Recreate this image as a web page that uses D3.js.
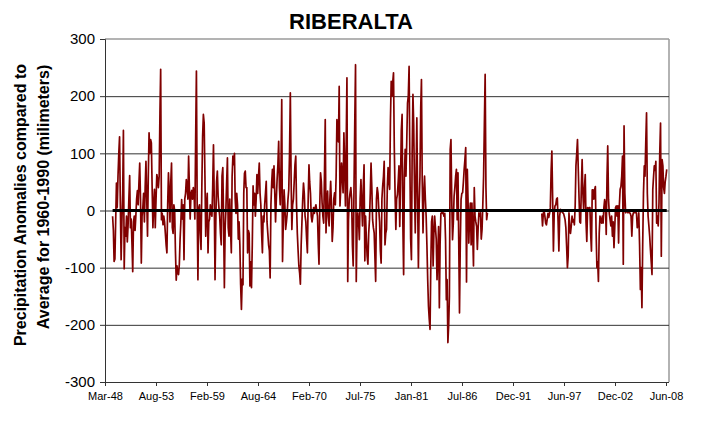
<!DOCTYPE html>
<html>
<head>
<meta charset="utf-8">
<script src="https://cdn.jsdelivr.net/npm/d3@7"></script>
<style>
body { margin: 0; background: #fff; }
text { font-family: "Liberation Sans", Arial, sans-serif; }
</style>
</head>
<body>
<svg id="chart" width="701" height="426"></svg>
<script>
// monthly precipitation anomalies (mm)
var anom1949 = [ // Jan 1949 - Dec 1958
  -10,-35,-89,-85,-20,48,5,60,100,129, 10,-86,-20,30,140,-102,-30,-45,-10,-55,
  -25,20,61,-30,-15,-60,-107,-20,-10,-35, -10,20,35,10,50,83,20,-92,-10,5,
  30,-20,40,86,20,-45,60,136,100,124, 118,40,-30,10,37,-30,20,63,55,40,
  60,170,247,-16,-5,-25,-10,-20,-40,-60, -74,10,66,30,-20,50,83,-30,-40,10,
  0,-70,-122,-97,-110,-112,-95,-50,-20,19, -15,10,-86,20,30,54,40,20,95,40,
  -15,30,35,20,40,30,-15,120,244,0, -121,5,10,-40,-68,40,130,168,153,60
];
var anom1959 = [ // Jan 1959 - Dec 1968
  -45,10,30,-74,-20,-15,10,-5,-10,40, 115,20,-121,-20,50,69,25,5,-10,-40,
  -60,60,75,-15,-135,-30,0,50,92,-30, -45,20,-35,-74,60,95,80,100,20,-5,
  30,10,-50,-20,-60,-130,-173,-120,-130,30, 65,69,40,40,-74,-35,-40,-132,-90,-135,
  -60,43,10,30,-10,20,63,30,60,83, 30,10,-40,-74,-10,-20,10,30,51,-20,
  -40,-60,-70,-118,10,50,72,40,78,30, -20,20,55,80,121,40,10,80,194,-89,
  -20,36,10,-33,-20,-5,20,36,100,206, 60,-33,10,20,50,80,95,10,-40,-70
];
var anom1969 = [ // Jan 1969 - Dec 1978
  -97,-110,-129,-60,-20,20,48,30,-10,-20, -50,-74,20,80,50,30,-10,-20,-10,5,
  -5,5,10,0,-10,-60,-94,10,66,50, 13,-10,-22,60,159,-39,10,34,-10,-27,
  20,51,10,-54,-30,20,31,10,60,159, 130,120,217,8,40,83,60,31,136,80,
  8,120,232,-124,-16,20,31,40,20,-60, -97,31,150,255,-124,-30,-4,-20,-51,20,
  54,10,-27,40,80,-88,-10,-50,-80,-94, -40,-16,30,83,40,-16,-30,-39,-80,-124,
  20,40,30,2,-20,-70,-92,20,43,60, 86,-60,-40,-33,40,75,50,37,159,226
];
var anom1979 = [ // Jan 1979 - Apr 1989
  200,225,241,110,30,-33,20,28,50,78, -28,50,140,168,-20,-112,60,107,60,120,
  188,200,252,90,-50,-86,100,203,150,40, -39,60,162,20,-100,10,60,180,229,50,
  -39,30,60,20,-10,-60,-121,-167,-190,-208, -100,-20,-10,-97,-40,-10,-30,-50,-121,-80,
  -28,-170,-60,-5,-4,-5,-4,-10,-5,-51, -156,-121,-231,-200,-150,107,124,20,-51,-22,
  25,40,60,72,-16,66,-50,-179,-60,19, 30,31,50,72,90,110,-125,72,20,-57,
  -10,13,-60,13,-40,-97,40,-10,-20,-28, -68,-30,-4,-10,-4,-50,-33,10,60,150,
  238,40,-16,-4
];
var anom1995 = [ // Feb 1995 - Jul 2008
  -5,-27,-5,0,-10,-22,-25, -15,-5,-12,-5,5,69,104,20,-71,-5,
  8,10,20,22,-20,-71,-10,2,-2,-1, -4,-5,-10,-16,-30,-63,-100,-80,-4,-30,
  -40,-27,-10,-20,-16,-25,8,78,100,124, 72,20,-20,-22,40,89,30,0,40,63,
  -20,-54,5,0,5,5,-40,-71,36,36, 20,36,42,-39,-100,-90,-124,-40,-10,-16,
  -22,-10,-22,5,19,10,-42,60,113,19, -5,-16,-27,-10,-45,-20,-65,-30,5,8,
  -10,8,-57,10,37,42,60,95,-94,148, 30,-4,-2,0,-4,-2,-4,-5,-10,-45,
  -10,-4,-4,-2,-4,-4,-30,-25,-4,-60, -138,-100,-170,-60,30,78,60,120,171,30,
  -10,-27,-45,-68,-90,-112,37,60,78,70, 86,-22,-10,-27,13,100,153,-80,89,78,
  40,30,50,60,72
];
var segments = [anom1949, anom1959, anom1969, anom1979, anom1995];
var segmentStarts = ["1949-01-01", "1959-01-01", "1969-01-01", "1979-01-01", "1995-02-01"];

var tickLabels = ["Mar-48","Aug-53","Feb-59","Aug-64","Feb-70","Jul-75",
                  "Jan-81","Jul-86","Dec-91","Jun-97","Dec-02","Jun-08"];
var yTicks = [-300, -200, -100, 0, 100, 200, 300];
var yGrid = [-200, -100, 0, 100, 200];

var svg = d3.select("#chart");
var plotLeft = 105, plotRight = 669, plotTop = 39, plotBottom = 382;

// Excel date axis: major unit 2000 days
var axisStart = new Date(Date.UTC(1948, 2, 9));
var tickDates = tickLabels.map(function (d, i) { return d3.utcDay.offset(axisStart, i * 2000); });

var x = d3.scaleUtc()
    .domain([axisStart, tickDates[tickDates.length - 1]])
    .range([plotLeft, 666]);
var y = d3.scaleLinear().domain([-300, 300]).range([plotBottom, plotTop]);

var points = [];
segments.forEach(function (seg, s) {
    var t0 = d3.utcParse("%Y-%m-%d")(segmentStarts[s]);
    if (s > 0 && points.length) {
        var last = points[points.length - 1].date;
        if (d3.utcMonth.offset(last, 1) < t0) points.push({date: d3.utcMonth.offset(last, 1), value: null});
    }
    seg.forEach(function (v, i) {
        points.push({date: d3.utcMonth.offset(t0, i), value: v});
    });
});

// plot border (top / right) in grey
svg.append("line").attr("x1", plotLeft).attr("x2", plotRight).attr("y1", plotTop).attr("y2", plotTop)
    .attr("stroke", "#9a9a9a").attr("stroke-width", 1.5);
svg.append("line").attr("x1", plotRight).attr("x2", plotRight).attr("y1", plotTop).attr("y2", plotBottom)
    .attr("stroke", "#9a9a9a").attr("stroke-width", 1.5);

svg.append("g").selectAll("line").data(yGrid).enter().append("line")
    .attr("x1", plotLeft).attr("x2", plotRight)
    .attr("y1", function (d) { return y(d) + 0.5; })
    .attr("y2", function (d) { return y(d) + 0.5; })
    .attr("stroke", "#333")
    .attr("stroke-width", 1);

// anomaly line
var line = d3.line()
    .defined(function (d) { return d.value !== null; })
    .x(function (d) { return x(d.date); })
    .y(function (d) { return y(d.value); });

svg.append("path")
    .datum(points)
    .attr("d", line)
    .attr("fill", "none")
    .attr("stroke", "#800000")
    .attr("stroke-width", 1.7)
    .attr("stroke-linejoin", "round");

// zero line (black, thick) across the whole record
svg.append("line")
    .attr("x1", x(points[0].date))
    .attr("x2", x(points[points.length - 1].date))
    .attr("y1", y(0)).attr("y2", y(0))
    .attr("stroke", "#000")
    .attr("stroke-width", 3);

// axes
var yAxis = svg.append("g")
    .attr("transform", "translate(" + plotLeft + ",0)")
    .call(d3.axisLeft(y).tickValues(yTicks).tickSize(5).tickPadding(5)
        .tickFormat(function (d) { return String(d); }));
yAxis.selectAll("text").attr("font-size", 15).attr("fill", "#000")
    .style("font-family", "'Liberation Sans', Arial, sans-serif");
yAxis.selectAll("line").attr("stroke", "#333");
yAxis.select(".domain").attr("stroke", "#333");

var xAxis = svg.append("g")
    .attr("transform", "translate(0," + plotBottom + ")")
    .call(d3.axisBottom(x).tickValues(tickDates).tickSize(4).tickPadding(6)
        .tickFormat(function (d, i) { return tickLabels[i]; }));
xAxis.selectAll("text").attr("font-size", 11).attr("fill", "#000")
    .style("font-family", "'Liberation Sans', Arial, sans-serif");
xAxis.selectAll("line").attr("stroke", "#333");
xAxis.select(".domain").attr("d", "M" + plotLeft + ",0.5H" + plotRight).attr("stroke", "#333");

// title
svg.append("text")
    .attr("x", 351).attr("y", 29)
    .attr("text-anchor", "middle")
    .attr("font-size", 22).attr("font-weight", "bold")
    .text("RIBERALTA");

// y axis title, two lines
svg.append("text")
    .attr("transform", "translate(26,205) rotate(-90)")
    .attr("text-anchor", "middle")
    .attr("font-size", 16).attr("font-weight", "bold")
    .text("Precipitation Anomalies compared to");
svg.append("text")
    .attr("transform", "translate(49,197) rotate(-90)")
    .attr("text-anchor", "middle")
    .attr("font-size", 16).attr("font-weight", "bold")
    .text("Average for 1960-1990 (milimeters)");
</script>
</body>
</html>
